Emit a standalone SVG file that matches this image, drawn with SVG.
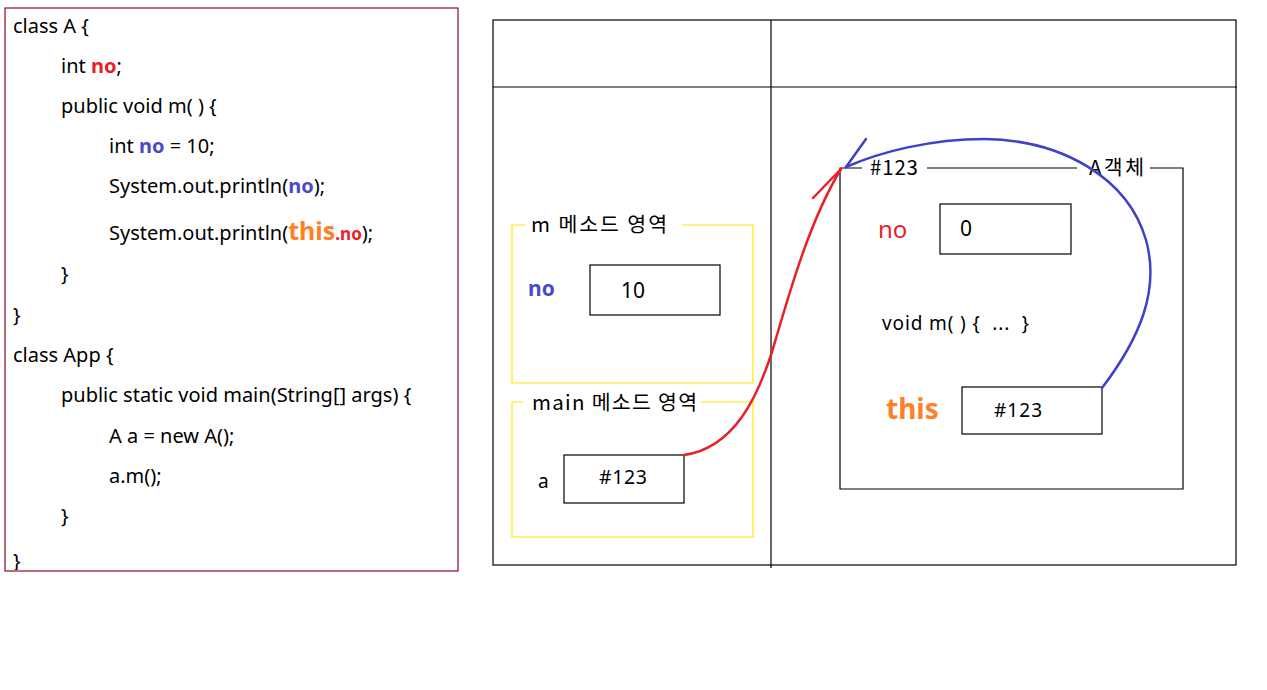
<svg xmlns="http://www.w3.org/2000/svg" width="1267" height="690" viewBox="0 0 1267 690">
<style>
text{font-family:"Noto Sans","Noto Sans CJK KR",sans-serif;}
.code{font-size:20px;fill:#000;}
.lbl{font-size:20.5px;font-family:"Noto Sans CJK KR","Noto Sans",sans-serif;fill:#000;}
.t{fill:#000;}
.box{fill:#fff;stroke:#000;stroke-width:1.2;}
.frame{fill:none;stroke:#000;stroke-width:1.2;}
.yel{fill:none;stroke:#ffe600;stroke-width:1.2;}
.red{fill:#e8202a;font-weight:bold;}
.redn{fill:#e8202a;}
.blue{fill:#4a4ac8;font-weight:bold;}
.orange{fill:#ff7f27;font-weight:bold;}
.conn{fill:none;stroke-width:2.5;stroke-linecap:round;}
</style>
<defs>
<clipPath id="codeclip"><rect x="5" y="8" width="453" height="562"/></clipPath>
</defs>
<rect width="1267" height="690" fill="#fff"/>

<g id="code">
<rect x="5" y="8" width="453" height="563" fill="#fff" stroke="#8b0a2a" stroke-width="1.2"/>
<g clip-path="url(#codeclip)">
<text x="13" y="33" class="code">class A {</text>
<text x="61" y="73" class="code">int <tspan class="red">no</tspan>;</text>
<text x="61" y="113" class="code">public void m( ) {</text>
<text x="109" y="153" class="code">int <tspan class="blue">no</tspan> = 10;</text>
<text x="109" y="193" class="code">System.out.println(<tspan class="blue">no</tspan>);</text>
<text x="109" y="240" class="code">System.out.println(<tspan class="orange" font-size="25">this</tspan><tspan class="red" font-size="17">.no</tspan>);</text>
<text x="61" y="281" class="code">}</text>
<text x="13" y="322" class="code">}</text>
<text x="13" y="362" class="code">class App {</text>
<text x="61" y="402" class="code">public static void main(String[] args) {</text>
<text x="109" y="443" class="code">A a = new A();</text>
<text x="109" y="483" class="code">a.m();</text>
<text x="61" y="523" class="code">}</text>
<text x="13" y="568" class="code">}</text>
</g>
</g>

<g id="memory-table">
<rect x="493" y="20" width="743" height="545" class="frame"/>
<line x1="493" y1="87" x2="1237" y2="87" stroke="#000" stroke-width="1.2"/>
<line x1="771" y1="20" x2="771" y2="568" stroke="#000" stroke-width="1.2"/>
</g>

<g id="m-frame">
<path d="M525,225 H512 V383 H753 V225 H681" class="yel"/>
<text x="531" y="232" class="lbl" textLength="136" lengthAdjust="spacing">m 메소드 영역</text>
<text x="528" y="296" class="blue" font-size="21">no</text>
<rect x="590" y="265" width="130" height="50" class="box"/>
<text x="621" y="298" font-size="21" class="t">10</text>
</g>

<g id="main-frame">
<path d="M523,402 H512 V537 H753 V402 H701" class="yel"/>
<text x="532" y="410" class="lbl" textLength="165" lengthAdjust="spacing">main 메소드 영역</text>
<text x="538" y="488" font-size="19" class="t">a</text>
<rect x="564" y="455" width="120" height="48" class="box"/>
<text x="599" y="484" font-size="19.5" class="t" textLength="48">#123</text>
</g>

<g id="a-object">
<path d="M862,168 H840 V489 H1183 V168 H1150" class="frame"/>
<line x1="927" y1="168" x2="1077" y2="168" stroke="#000" stroke-width="1.2"/>
<text x="870" y="175" class="lbl" textLength="48">#123</text>
<text x="1089" y="175" class="lbl" textLength="55" lengthAdjust="spacing">A객체</text>
<text x="878" y="238" font-size="24" class="redn">no</text>
<rect x="940" y="204" width="131" height="50" class="box"/>
<text x="960" y="236" font-size="21" class="t">0</text>
<text x="882" y="330" font-size="19" class="t" xml:space="preserve" textLength="147" lengthAdjust="spacing">void m( ) {  ...  }</text>
<text x="886" y="419" class="orange" font-size="28">this</text>
<rect x="962" y="387" width="140" height="47" class="box"/>
<text x="994" y="417" font-size="19" class="t" textLength="48">#123</text>
</g>

<g id="connectors">
<path d="M684,455 C735,448 758,395 772,352 C790,290 810,220 841,169" class="conn" stroke="#e8202a"/>
<line x1="841" y1="169" x2="813" y2="198" class="conn" stroke="#e8202a"/>
<path d="M1102,388 C1140,338 1160,290 1146,240 C1128,178 1062,140 985,139 C930,139 880,152 846,167" class="conn" stroke="#4040c8"/>
<line x1="846" y1="167" x2="866" y2="139" class="conn" stroke="#4040c8"/>
</g>
</svg>
